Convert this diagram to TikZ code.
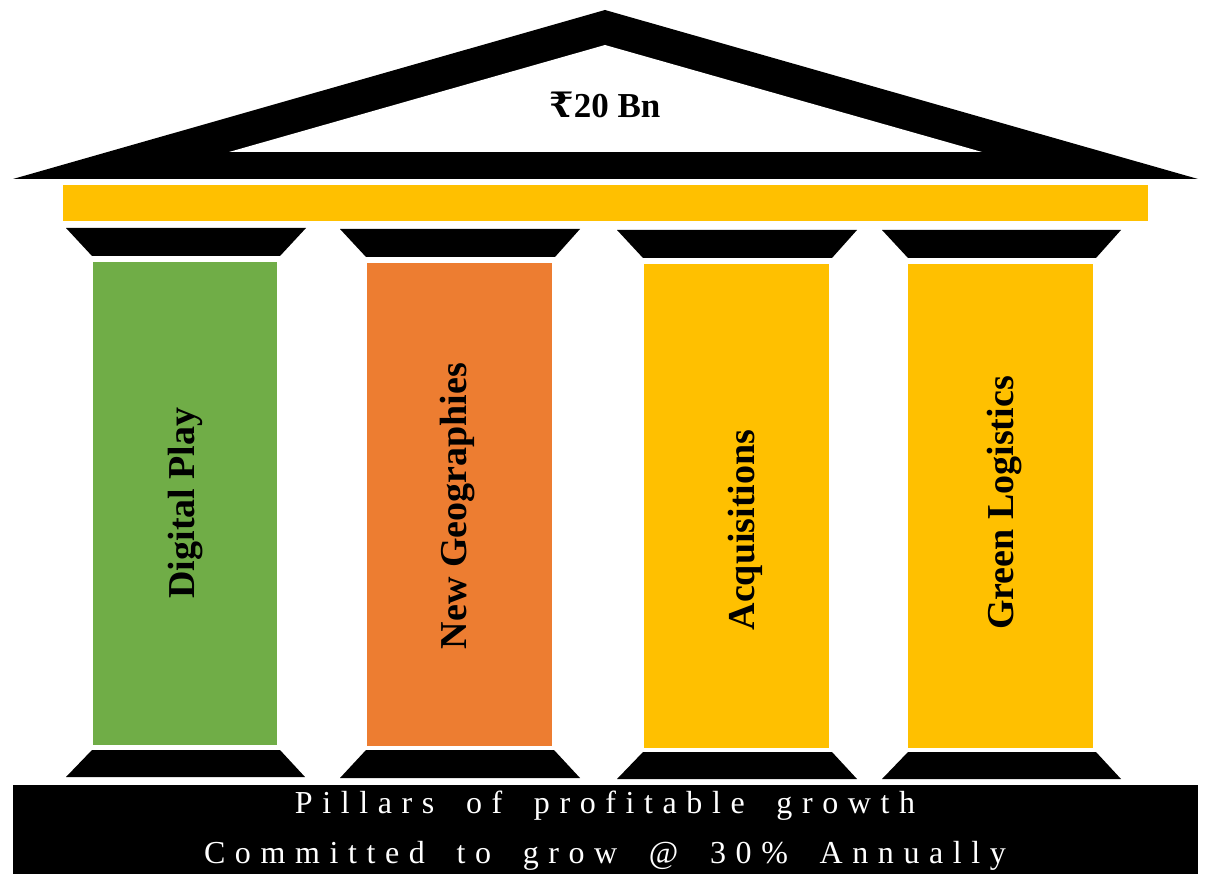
\documentclass[tikz,border=0pt]{standalone}
\usepackage{fontspec}
\setmainfont{Liberation Serif}
\newfontfamily\rupeefont{DejaVu Serif}
\newfontfamily\spacedfont[LetterSpace=30, WordSpace=1.8]{Liberation Serif}

\definecolor{pillargreen}{HTML}{70AD47}
\definecolor{pillarorange}{HTML}{ED7D31}
\definecolor{pillaryellow}{HTML}{FFC000}

\tikzset{
  capstone/.style={fill=black},
  pillarlabel/.style={rotate=90, font=\bfseries\fontsize{38}{38}\selectfont},
  basetext/.style={text=white, font=\spacedfont\fontsize{32}{32}\selectfont},
}

\begin{document}
\begin{tikzpicture}[x=1pt, y=-1pt]
    \useasboundingbox[fill=white] (0,0) rectangle (1205,874);

    % Roof
    \fill[black] (13,179) -- (605,10) -- (1198,179) -- cycle;
    \fill[white] (229,152) -- (605,45) -- (982,152) -- cycle;
    \node (value) at (605,105) {\fontsize{35}{35}\selectfont\bfseries{\rupeefont ₹}20 Bn};

    % Beam under the roof
    \fill[pillaryellow] (63,185) rectangle (1148,221);

    % Top capstones
    \fill[capstone] (66,228) -- (306,228) -- (280,256) -- (92,256) -- cycle;
    \fill[capstone] (340,229) -- (580,229) -- (555,257) -- (366,257) -- cycle;
    \fill[capstone] (617,230) -- (857,230) -- (832,258) -- (643,258) -- cycle;
    \fill[capstone] (882,230) -- (1121,230) -- (1096,258) -- (908,258) -- cycle;

    % Pillars
    \fill[pillargreen] (93,262) rectangle (277,745);
    \fill[pillarorange] (367,263) rectangle (552,746);
    \fill[pillaryellow] (644,264) rectangle (829,748);
    \fill[pillaryellow] (908,264) rectangle (1093,748);

    % Pillar names
    \node[pillarlabel] (digital) at (186,503) {Digital Play};
    \node[pillarlabel] (geo) at (458,506) {New Geographies};
    \node[pillarlabel] (acq) at (745,530) {Acquisitions};
    \node[pillarlabel] (green) at (1004,503) {Green Logistics};

    % Bottom capstones
    \fill[capstone] (92,750) -- (280,750) -- (305,777) -- (66,777) -- cycle;
    \fill[capstone] (366,750) -- (554,750) -- (580,778) -- (340,778) -- cycle;
    \fill[capstone] (643,752) -- (832,752) -- (857,779) -- (617,779) -- cycle;
    \fill[capstone] (908,752) -- (1096,752) -- (1121,779) -- (882,779) -- cycle;

    % Base
    \fill[black] (13,785) rectangle (1198,874);
    \node[basetext] (pillars) at (605,806) {Pillars of profitable growth};
    \node[basetext] (growth) at (605,856) {Committed to grow @ 30\% Annually};
\end{tikzpicture}
\end{document}
